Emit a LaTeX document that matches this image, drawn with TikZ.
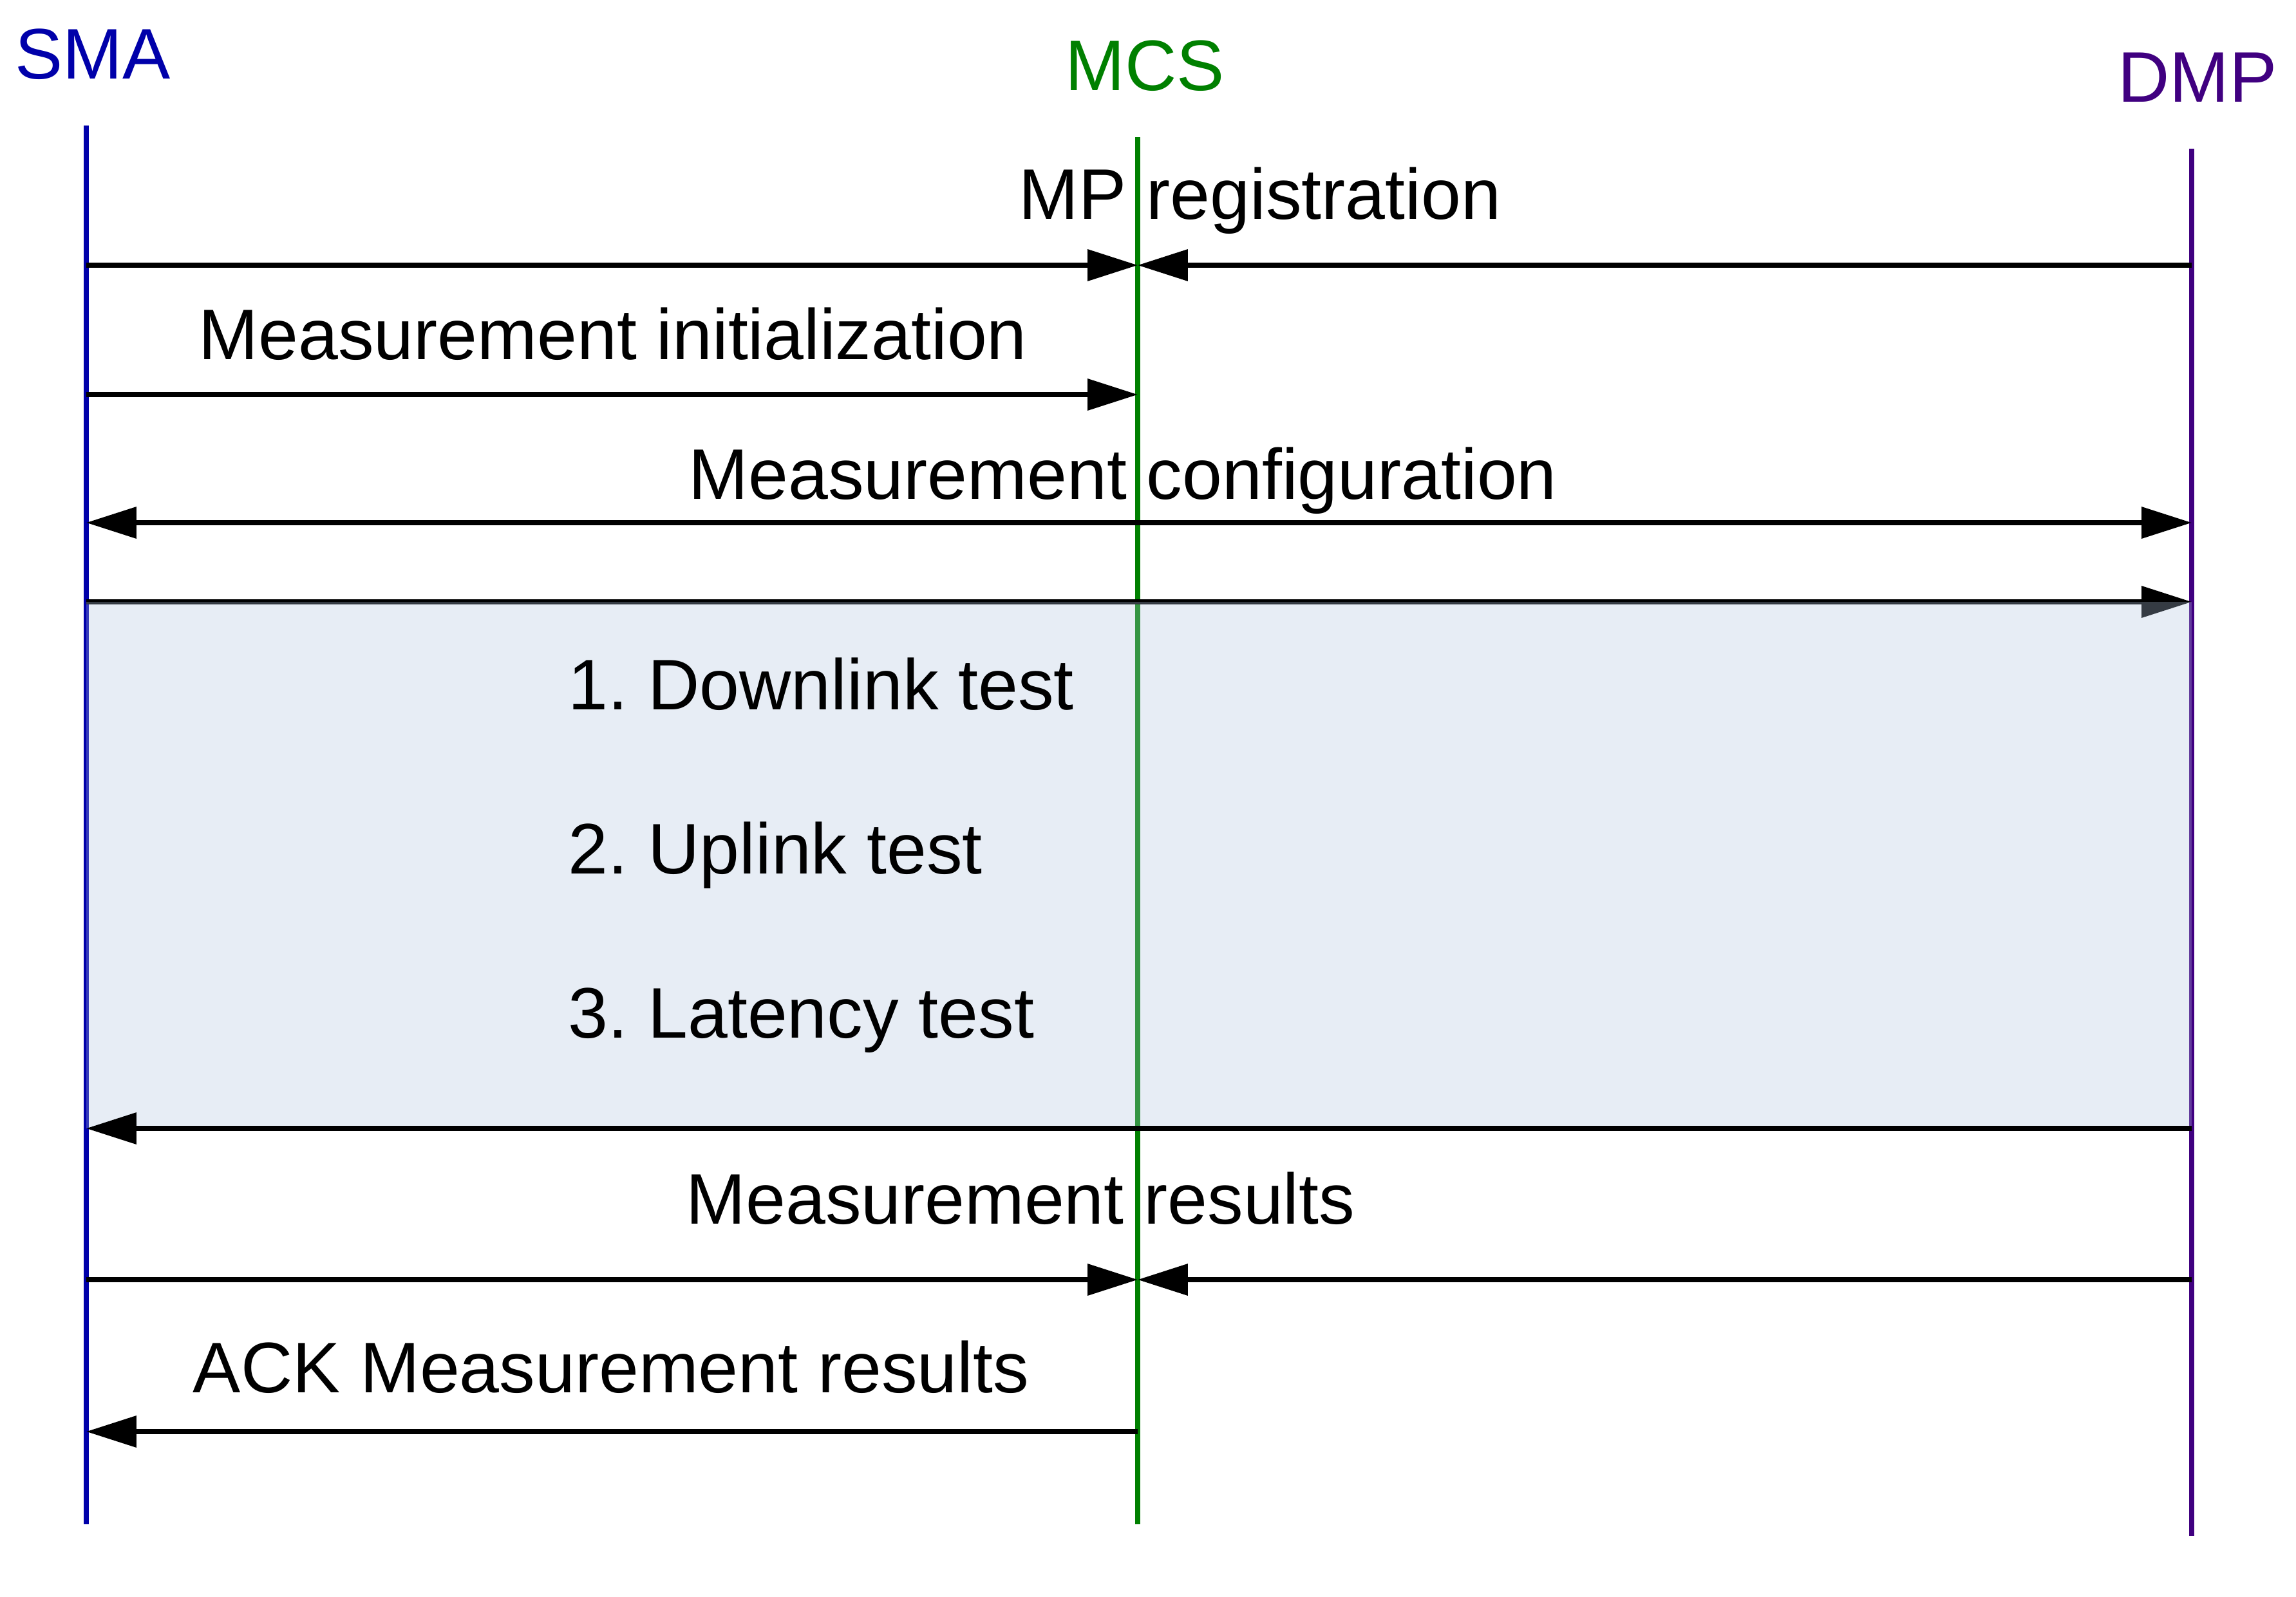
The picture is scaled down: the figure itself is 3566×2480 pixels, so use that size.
\documentclass[tikz,border=0pt]{standalone}
\usepackage{fontspec}
\setmainfont{Liberation Sans}
\usetikzlibrary{arrows.meta}
\frenchspacing
\definecolor{smacol}{RGB}{0,0,170}
\definecolor{mcscol}{RGB}{0,128,0}
\definecolor{dmpcol}{RGB}{64,0,128}
\definecolor{boxcol}{RGB}{178,198,225}
\tikzset{
  lifeline/.style={line width=2pt},
  msg/.style={line width=1.7pt, black},
  tip/.style={-{Triangle[length=18.7pt,width=11.5pt]}},
  bothtip/.style={{Triangle[length=18.7pt,width=11.5pt]}-{Triangle[length=18.7pt,width=11.5pt]}},
  lbl/.style={inner sep=0pt, anchor=base, font=\fontsize{26.7pt}{32pt}\selectfont},
  lblw/.style={lbl, anchor=base west},
  actor/.style={lbl}
}
\begin{document}
\begin{tikzpicture}[x=0.24pt,y=-0.24pt]
\useasboundingbox[fill=white] (0,0) rectangle (3566,2480);
% actors
\node[actor, text=smacol] (smaL) at (144,122) {SMA};
\node[actor, text=mcscol] (mcsL) at (1778,140) {MCS};
\node[actor, text=dmpcol] (dmpL) at (3413,158) {DMP};
% lifeline ends
\coordinate (smaT) at (134,195);  \coordinate (smaB) at (134,2368);
\coordinate (mcsT) at (1767,213); \coordinate (mcsB) at (1767,2368);
\coordinate (dmpT) at (3404,231); \coordinate (dmpB) at (3404,2386);
\draw[lifeline, smacol] (smaT) -- (smaB);
\draw[lifeline, mcscol] (mcsT) -- (mcsB);
\draw[lifeline, dmpcol] (dmpT) -- (dmpB);
% message anchor points
\foreach \n/\y in {1/412,2/613,3/812,4/935,5/1753,6/1988,7/2224}{
  \coordinate (s\n) at (134,\y);
  \coordinate (m\n) at (1767,\y);
  \coordinate (d\n) at (3404,\y);
}
% messages before box
\draw[msg, tip] (s1) -- (m1);
\draw[msg, tip] (d1) -- (m1);
\draw[msg, tip] (s2) -- (m2);
\draw[msg, bothtip] (s3) -- (d3);
\draw[msg, tip] (s4) -- (d4);
% shaded box
\fill[boxcol, fill opacity=0.3] (s4) rectangle (d5);
% messages after box
\draw[msg, tip] (d5) -- (s5);
\draw[msg, tip] (s6) -- (m6);
\draw[msg, tip] (d6) -- (m6);
\draw[msg, tip] (m7) -- (s7);
% labels
\node[lbl] (l1) at (1957,340) {MP registration};
\node[lbl] (l2) at (952,558) {Measurement initialization};
\node[lbl] (l3) at (1744,775) {Measurement configuration};
\node[lblw] (t1) at (882,1102) {1. Downlink test};
\node[lblw] (t2) at (882,1357) {2. Uplink test};
\node[lblw] (t3) at (882,1612) {3. Latency test};
\node[lbl] (l5) at (1585,1901) {Measurement results};
\node[lbl] (l6) at (949,2163) {ACK Measurement results};
\end{tikzpicture}
\end{document}
